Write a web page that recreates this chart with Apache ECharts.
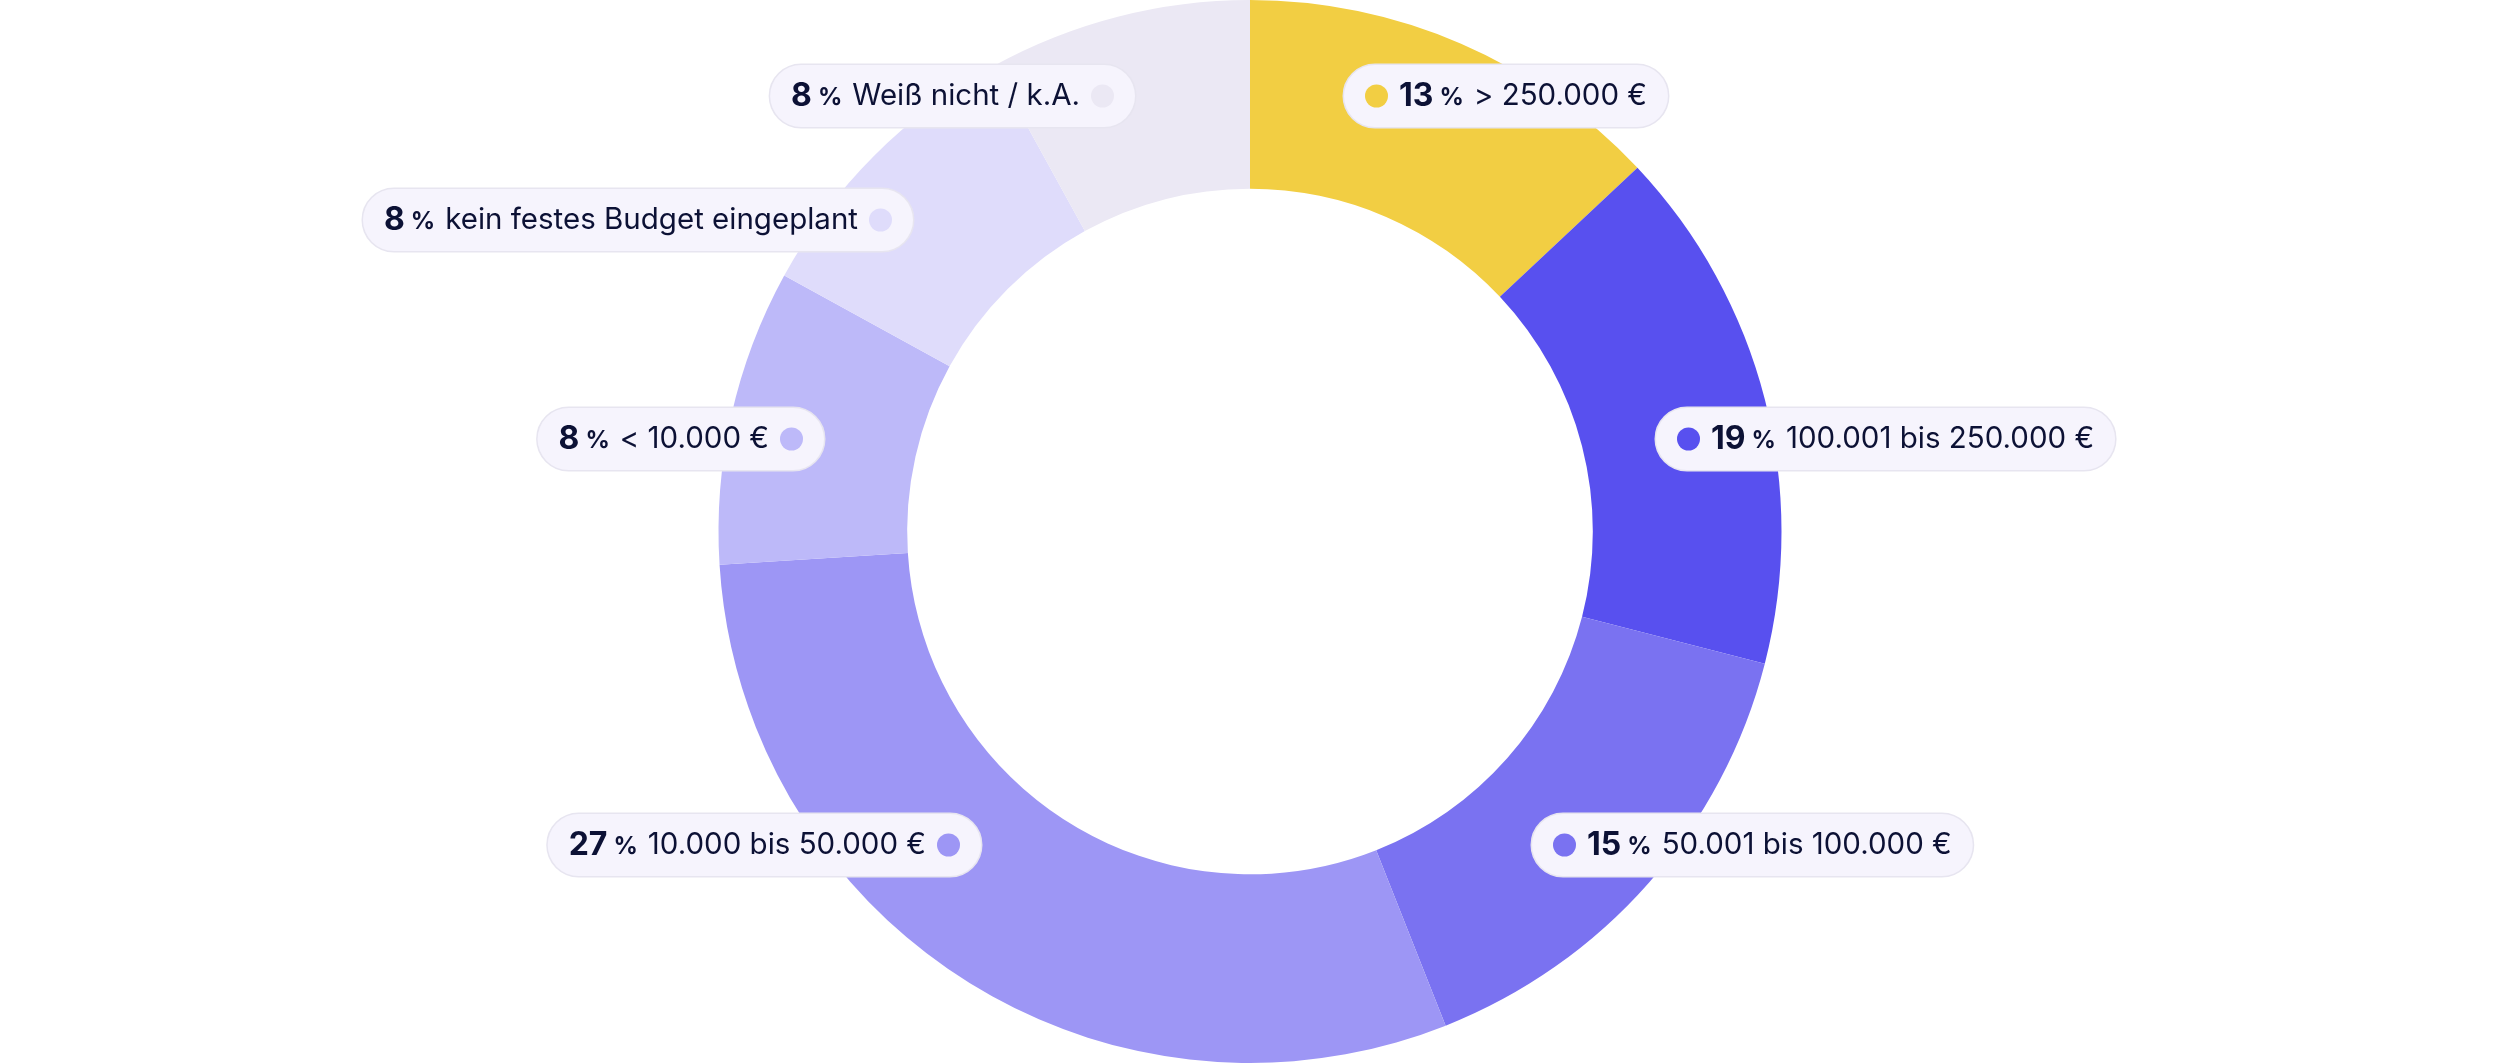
<!DOCTYPE html>
<html>
<head>
    <meta charset="utf-8">
    <title>Budget Ringdiagramm</title>
    <script src="https://cdn.jsdelivr.net/npm/echarts/dist/echarts.min.js"></script>
    <style>
        html, body { margin: 0; padding: 0; background: #ffffff; }
    </style>
</head>
<body>
<div id="chart-container" style="width: 2500px; height: 1063px;"></div>
<script>
    // Kategorien (im Uhrzeigersinn ab 12 Uhr)
    var categories = [
        '> 250.000 €',
        '100.001 bis 250.000 €',
        '50.001 bis 100.000 €',
        '10.000 bis 50.000 €',
        '< 10.000 €',
        'kein festes Budget eingeplant',
        'Weiß nicht / k.A.'
    ];
    // Anteil am Ring, so wie die Segmente gezeichnet sind
    var sliceShares = [13, 16, 15, 30, 9, 9, 8];
    // Prozentzahlen, die in den Labels stehen
    var labelPercents = [13, 19, 15, 27, 8, 8, 8];

    // Farben der Segmente
    var colors = ['#f2ce43', '#5850ef', '#7a72f1', '#9d96f5', '#bdb9f9', '#dfdcfb', '#ebe8f4'];
    // Ankerpunkt der Label-Pille (px) und Seite, an der sie anliegt
    var labelAnchors = [
        [1344, 96, 'left'],
        [1656, 439, 'left'],
        [1532, 845, 'left'],
        [981, 845, 'right'],
        [824, 439, 'right'],
        [913, 220, 'right'],
        [1135, 96, 'right']
    ];

    var FONT = 'Inter, "Noto Sans", sans-serif';
    var INK = '#0c1135';

    var rich = {
        sp: { width: 11 },
        num: { fontFamily: FONT, fontSize: 32, fontWeight: 'bold', color: INK, padding: [0, 6, 0, 0] },
        pct: { fontFamily: FONT, fontSize: 24, fontWeight: 'bold', color: INK, padding: [3, 10, 0, 0] },
        txt: { fontFamily: FONT, fontSize: 29.5, fontWeight: 'normal', color: INK }
    };
    colors.forEach(function (c, i) {
        rich['dot' + i] = { width: 23, height: 23, borderRadius: 12, backgroundColor: c };
    });

    var pieData = categories.map(function (name, i) {
        return { name: name, value: sliceShares[i], itemStyle: { color: colors[i] } };
    });

    var option = {
        animation: false,
        backgroundColor: '#ffffff',
        series: [{
            type: 'pie',
            center: ['50%', '50%'],
            radius: ['64.5%', '100%'],
            startAngle: 90,
            clockwise: true,
            silent: true,
            itemStyle: { borderWidth: 0 },
            labelLine: { show: false },
            label: {
                show: true,
                position: 'inside',
                overflow: 'none',
                backgroundColor: '#f6f4fd',
                borderColor: '#e7e5f0',
                borderWidth: 1.5,
                borderRadius: 32,
                padding: [15, 21, 15, 21],
                formatter: function (p) {
                    var i = p.dataIndex;
                    var body = '{num|' + labelPercents[i] + '}{pct|%}{txt|' + categories[i] + '}';
                    if (labelAnchors[i][2] === 'left') {
                        return '{dot' + i + '|}{sp|}' + body;
                    }
                    return body + '{sp|}{dot' + i + '|}';
                },
                rich: rich
            },
            labelLayout: function (params) {
                var a = labelAnchors[params.dataIndex];
                return { x: a[0], y: a[1], align: a[2], verticalAlign: 'middle' };
            },
            data: pieData
        }]
    };

    var chart = echarts.init(document.getElementById('chart-container'));
    chart.setOption(option);
</script>
</body>
</html>
